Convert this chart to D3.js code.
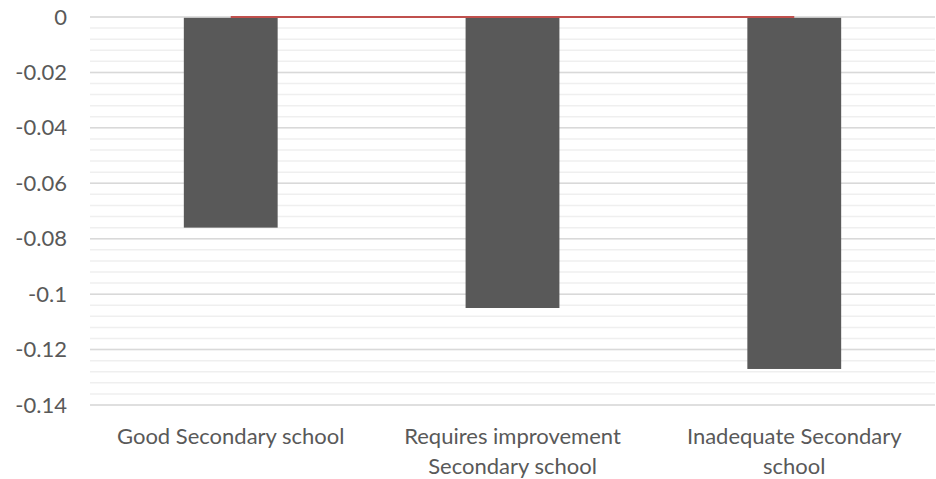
<!DOCTYPE html>
<html>
<head>
<meta charset="utf-8">
<script src="https://cdn.jsdelivr.net/npm/d3@7"></script>
<style>
  html, body { margin: 0; padding: 0; background: #ffffff; }
  svg { display: block; }
  text { font-family: Lato, "Open Sans", sans-serif; fill: #595959; }
</style>
</head>
<body>
<svg id="chart" width="936" height="479"></svg>
<script>
// School rating categories and the estimated effect for each
const categories = ["Good Secondary school", "Requires improvement Secondary school", "Inadequate Secondary school"];
const effects = [-0.076, -0.105, -0.127];
// Reference line series (drawn across category centres)
const reference = [0, 0, 0];
// Axis ticks
const majorTicks = [0, -0.02, -0.04, -0.06, -0.08, -0.1, -0.12, -0.14];
const minorStep = 0.004;

const W = 936, H = 479;
const margin = { top: 17, right: 1, bottom: 74, left: 90 };
const fontSize = 22;

const svg = d3.select("#chart");

const x = d3.scaleBand()
  .domain(categories)
  .range([margin.left, W - margin.right])
  .paddingInner(0.667)
  .paddingOuter(0.333);

const y = d3.scaleLinear()
  .domain([0, -0.14])
  .range([margin.top, H - margin.bottom]);

// Minor gridlines
const minorVals = d3.range(0, 36).map(i => -i * minorStep).filter(v => v >= -0.14 - 1e-9);
svg.append("g")
  .selectAll("line")
  .data(minorVals)
  .join("line")
  .attr("x1", margin.left).attr("x2", W - margin.right)
  .attr("y1", d => y(d)).attr("y2", d => y(d))
  .attr("stroke", "#efefef").attr("stroke-width", 1.5);

// Major gridlines
svg.append("g")
  .selectAll("line")
  .data(majorTicks)
  .join("line")
  .attr("x1", margin.left).attr("x2", W - margin.right)
  .attr("y1", d => y(d)).attr("y2", d => y(d))
  .attr("stroke", "#d9d9d9").attr("stroke-width", 1.5);

// Y axis labels (plain hyphen for negatives)
const yAxis = d3.axisLeft(y)
  .tickValues(majorTicks)
  .tickFormat(d => String(+d.toFixed(2)))
  .tickSize(0)
  .tickPadding(23);
const gy = svg.append("g")
  .attr("transform", `translate(${margin.left},0)`)
  .call(yAxis);
gy.select(".domain").remove();
gy.selectAll("text")
  .style("font-size", fontSize + "px")
  .style("font-family", "Lato, 'Open Sans', sans-serif")
  .attr("fill", "#595959");

// Bars
svg.append("g")
  .selectAll("rect")
  .data(categories)
  .join("rect")
  .attr("x", d => x(d))
  .attr("width", x.bandwidth())
  .attr("y", (d, i) => y(Math.max(0, effects[i])) + 0.8)
  .attr("height", (d, i) => Math.abs(y(effects[i]) - y(0)) - 0.8)
  .attr("fill", "#595959");

// Reference line
const line = d3.line()
  .x((d, i) => x(categories[i]) + x.bandwidth() / 2)
  .y(d => y(d));
svg.append("path")
  .datum(reference)
  .attr("d", line)
  .attr("fill", "none")
  .attr("stroke", "#c0504d")
  .attr("stroke-width", 2.2);

// X axis labels, wrapped to the category width
const xAxis = d3.axisBottom(x).tickSize(0).tickPadding(0);
const gx = svg.append("g")
  .attr("transform", `translate(0,${y(-0.14)})`)
  .call(xAxis);
gx.select(".domain").remove();
gx.selectAll("text")
  .style("font-size", fontSize + "px")
  .style("font-family", "Lato, 'Open Sans', sans-serif")
  .attr("fill", "#595959")
  .each(function(d) {
    const t = d3.select(this);
    const words = d.split(" ");
    const maxW = x.step() * 0.95;
    t.text(null);
    let lineNo = 0;
    let tspan = t.append("tspan").attr("x", 0).attr("y", 39);
    let current = [];
    words.forEach(w => {
      current.push(w);
      tspan.text(current.join(" "));
      if (tspan.node().getComputedTextLength() > maxW && current.length > 1) {
        current.pop();
        tspan.text(current.join(" "));
        current = [w];
        lineNo++;
        tspan = t.append("tspan").attr("x", 0).attr("y", 39 + lineNo * 29.5).text(w);
      }
    });
  })
  .attr("dy", null);
</script>
</body>
</html>
